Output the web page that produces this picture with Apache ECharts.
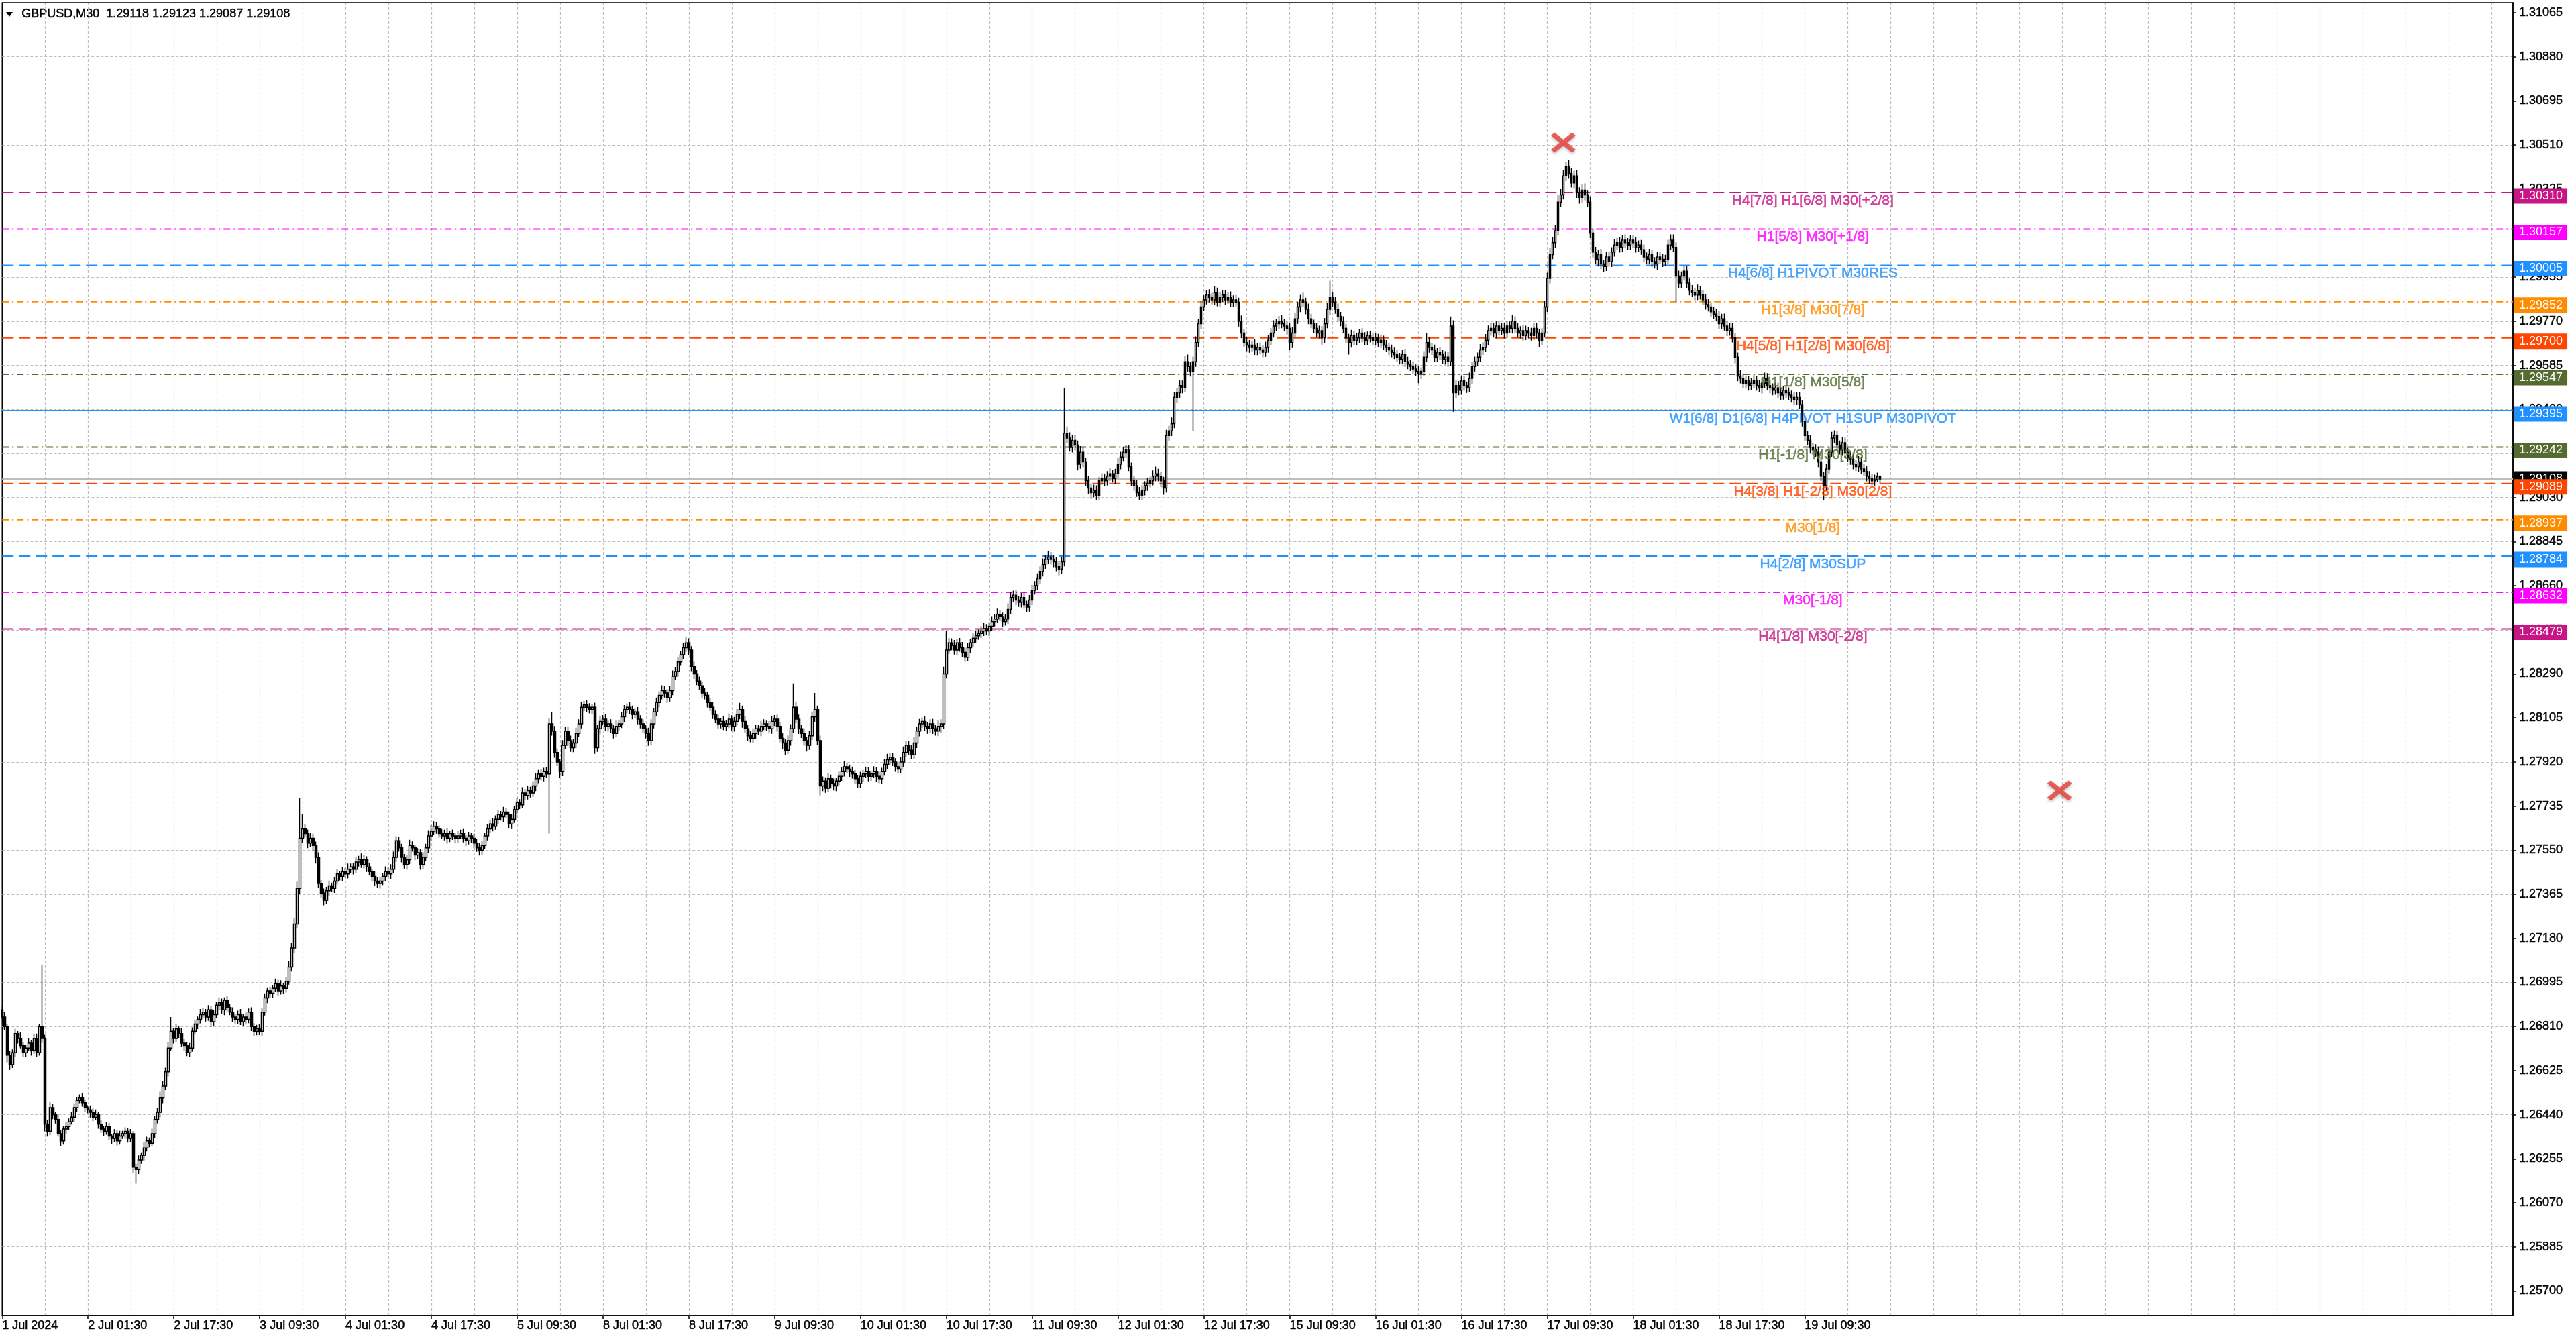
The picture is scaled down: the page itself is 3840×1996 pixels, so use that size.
<!DOCTYPE html>
<html>
<head>
<meta charset="utf-8">
<title>GBPUSD,M30</title>
<script src="https://cdn.jsdelivr.net/npm/echarts@6.0.0/dist/echarts.min.js"></script>
<style>
  html, body { margin: 0; padding: 0; background: #fff; }
  #chart { width: 3840px; height: 1996px; }
</style>
</head>
<body>
<div id="chart"></div>
<script>
// closes of the 30 min bars in points above 1.00000 (26850 -> 1.26850)
// 1 Jul 09:30 .. 19 Jul 23:30, weekend skipped, open = previous close
const firstOpen = 26880;
const closePts = [
  26850, 26810, 26690, 26650, 26700, 26780, 26760, 26730, 26700, 26720,
  26740, 26710, 26760, 26700, 26810, 26760, 26400, 26370, 26470, 26440,
  26420, 26360, 26330, 26380, 26390, 26410, 26430, 26470, 26500, 26510,
  26490, 26470, 26460, 26450, 26430, 26440, 26400, 26380, 26370, 26390,
  26350, 26340, 26360, 26330, 26350, 26360, 26370, 26340, 26360, 26220,
  26210, 26250, 26270, 26300, 26330, 26320, 26360, 26420, 26450, 26510,
  26560, 26620, 26720, 26790, 26760, 26800, 26780, 26740, 26730, 26700,
  26720, 26790, 26820, 26840, 26860, 26870, 26850, 26880, 26830, 26860,
  26900, 26910, 26880, 26920, 26890, 26870, 26850, 26840, 26860, 26830,
  26850, 26840, 26870, 26810, 26790, 26800, 26790, 26870, 26930, 26960,
  26950, 26970, 26990, 26960, 26980, 26970, 27000, 27060, 27140, 27240,
  27390, 27600, 27640, 27620, 27580, 27600, 27570, 27520, 27410, 27370,
  27340, 27380, 27400, 27390, 27420, 27450, 27440, 27460, 27450, 27470,
  27480, 27470, 27500, 27510, 27490, 27510, 27480, 27460, 27440, 27420,
  27410, 27420, 27440, 27460, 27450, 27470, 27520, 27590, 27560, 27520,
  27490, 27510, 27570, 27560, 27530, 27540, 27490, 27520, 27560, 27610,
  27630, 27650, 27640, 27620, 27610, 27620, 27600, 27620, 27610, 27600,
  27610, 27620, 27600, 27590, 27610, 27600, 27580, 27560, 27550, 27570,
  27610, 27640, 27660, 27650, 27680, 27700, 27690, 27710, 27700, 27660,
  27680, 27720, 27750, 27740, 27790, 27780, 27800, 27790, 27820, 27850,
  27870, 27860, 27880, 27870, 28080, 28050, 27960, 27920, 27880, 27990,
  28050, 28010, 27980, 28000, 28040, 28080, 28150, 28160, 28150, 28140,
  28150, 27980, 28060, 28090, 28100, 28070, 28080, 28060, 28040, 28070,
  28080, 28110, 28140, 28150, 28140, 28120, 28130, 28100, 28080, 28060,
  28040, 28010, 28080, 28130, 28170, 28200, 28220, 28210, 28190, 28220,
  28280, 28300, 28340, 28370, 28400, 28420, 28390, 28320, 28290, 28260,
  28240, 28210, 28200, 28170, 28150, 28120, 28100, 28080, 28090, 28070,
  28080, 28100, 28070, 28090, 28120, 28140, 28090, 28060, 28030, 28020,
  28040, 28060, 28050, 28070, 28080, 28070, 28060, 28090, 28100, 28070,
  28020, 28000, 27970, 28010, 28060, 28150, 28100, 28060, 28040, 28010,
  27990, 28030, 28110, 28140, 28010, 27820, 27840, 27810, 27850, 27830,
  27820, 27840, 27860, 27880, 27900, 27890, 27880, 27870, 27850, 27830,
  27860, 27870, 27880, 27860, 27870, 27880, 27860, 27850, 27880, 27910,
  27930, 27940, 27920, 27900, 27890, 27920, 27960, 27990, 27970, 27950,
  28000, 28050, 28080, 28090, 28070, 28060, 28080, 28060, 28050, 28070,
  28080, 28290, 28390, 28420, 28410, 28390, 28420, 28400, 28380, 28360,
  28400, 28420, 28440, 28450, 28460, 28470, 28480, 28470, 28490, 28510,
  28520, 28540, 28530, 28510, 28520, 28560, 28610, 28620, 28600, 28590,
  28610, 28580, 28570, 28600, 28640, 28660, 28690, 28720, 28750, 28770,
  28780, 28770, 28760, 28740, 28730, 28760, 29300, 29280, 29240, 29270,
  29250, 29170, 29220, 29180, 29100, 29070, 29050, 29060, 29040, 29100,
  29110, 29100, 29120, 29130, 29110, 29130, 29170, 29200, 29220, 29230,
  29160, 29100, 29080, 29050, 29040, 29060, 29080, 29090, 29100, 29120,
  29130, 29120, 29100, 29070, 29290, 29310, 29340, 29450, 29470, 29500,
  29490, 29600, 29580, 29560, 29600, 29680, 29760, 29830, 29860, 29880,
  29870, 29860, 29890, 29850, 29870, 29880, 29860, 29870, 29850, 29860,
  29850, 29770, 29720, 29680, 29670, 29660, 29670, 29650, 29660, 29650,
  29640, 29660, 29690, 29720, 29750, 29760, 29770, 29760, 29750, 29740,
  29680, 29720, 29780, 29830, 29860, 29850, 29820, 29780, 29760, 29740,
  29720, 29730, 29700, 29760, 29820, 29870, 29850, 29820, 29790, 29770,
  29740, 29700, 29680, 29710, 29690, 29700, 29720, 29700, 29690, 29710,
  29700, 29690, 29700, 29680, 29690, 29670, 29660, 29650, 29640, 29630,
  29620, 29610, 29630, 29600, 29590, 29580, 29570, 29560, 29550, 29560,
  29620, 29680, 29660, 29650, 29620, 29640, 29630, 29610, 29620, 29600,
  29750, 29470, 29500, 29480, 29520, 29500, 29490, 29530, 29580, 29600,
  29620, 29650, 29660, 29690, 29730, 29740, 29720, 29750, 29730, 29740,
  29720, 29750, 29740, 29770, 29740, 29720, 29730, 29710, 29730, 29720,
  29710, 29740, 29720, 29690, 29720, 29830, 29950, 30050, 30100, 30150,
  30270, 30300, 30380, 30420, 30390, 30350, 30380, 30310, 30290, 30320,
  30300, 30270, 30140, 30060, 30030, 30050, 30010, 30000, 30040, 30020,
  30060, 30090, 30100, 30080, 30110, 30100, 30090, 30110, 30100, 30080,
  30090, 30070, 30040, 30030, 30050, 30020, 30010, 30040, 30030, 30020,
  30030, 30090, 30110, 30080, 29960, 29930, 29960, 29980, 29930, 29900,
  29890, 29880, 29900, 29880, 29860, 29840, 29830, 29810, 29800, 29790,
  29760, 29780, 29750, 29730, 29740, 29700, 29620, 29540, 29530, 29510,
  29520, 29500, 29510, 29520, 29500, 29490, 29510, 29530, 29500, 29490,
  29480, 29490, 29470, 29460, 29480, 29470, 29460, 29450, 29440, 29450,
  29420, 29350, 29290, 29270, 29240, 29230, 29220, 29180, 29120, 29080,
  29150, 29220, 29280, 29290, 29250, 29230, 29260, 29220, 29200, 29190,
  29170, 29160, 29180, 29150, 29140, 29120, 29110, 29100, 29105, 29118,
  29108
];

// wick above the body / below the body, in points
const wickUp = [
  15,22,12,18,14,20,11,25,16,13,21,14,18,20,12,260,15,19,24,16,
  12,20,16,11,18,14,23,17,12,15,21,14,10,19,16,22,12,17,14,20,
  16,10,19,14,22,12,17,15,20,11,14,19,12,24,17,14,21,16,19,26,
  20,17,24,60,15,19,12,22,17,14,21,16,19,12,24,17,14,20,16,19,
  14,22,17,12,19,16,21,14,17,24,12,19,16,21,14,17,22,16,19,12,
  17,14,21,16,24,12,19,26,20,24,28,170,60,20,17,24,19,16,21,14,
  19,16,22,14,17,21,12,19,16,24,14,17,21,16,26,19,14,17,12,21,
  16,19,14,22,17,21,24,19,16,17,14,21,24,17,12,19,16,21,17,24,
  26,21,17,14,19,16,22,12,17,14,21,16,19,12,17,14,21,16,19,17,
  14,21,17,24,16,19,14,22,17,12,21,16,19,14,24,17,21,16,19,22,
  17,21,16,19,24,50,21,17,14,22,19,16,21,17,24,19,22,16,21,17,
  14,19,16,22,17,21,14,19,16,24,17,21,19,16,22,17,14,21,16,19,
  17,24,19,16,21,17,22,19,16,21,24,19,22,17,21,26,19,16,21,17,
  19,16,21,14,17,22,16,19,14,21,17,24,16,19,22,28,17,21,16,19,
  21,17,16,22,19,14,21,24,17,19,16,21,17,22,19,100,24,19,17,21,
  16,19,22,70,17,21,19,16,22,17,21,14,19,17,24,16,19,21,17,14,
  19,16,21,17,14,22,17,19,16,21,24,17,19,16,21,22,25,19,17,21,
  24,19,21,17,22,16,19,21,17,24,19,30,80,21,19,22,17,21,24,19,
  21,17,22,19,16,21,24,19,17,22,21,24,19,17,21,26,24,19,21,17,
  19,22,17,21,24,19,22,21,24,19,26,21,17,19,22,21,190,28,24,21,
  24,19,26,21,17,22,19,24,21,17,22,19,21,24,17,21,25,22,24,19,
  21,17,19,22,24,21,19,22,17,24,30,21,19,17,24,21,26,22,19,24,
  21,24,30,19,22,26,21,24,19,21,24,19,26,21,24,19,22,21,25,19,
  21,19,24,17,22,21,19,24,17,21,19,24,22,21,24,19,22,25,21,19,
  21,24,26,22,21,30,19,24,21,17,22,21,19,24,26,70,22,21,24,19,
  21,19,17,24,21,22,19,21,24,17,19,22,21,17,24,19,21,17,22,19,
  21,17,19,24,21,17,22,19,21,17,24,40,21,19,22,17,21,19,24,21,
  40,24,21,19,22,21,17,24,21,22,19,24,21,26,22,21,24,19,22,21,
  24,21,19,25,21,22,19,24,21,17,22,21,24,19,21,26,24,28,22,25,
  28,24,26,20,28,24,21,26,22,24,28,21,24,19,22,21,24,19,21,22,
  21,24,19,22,21,24,19,22,21,24,19,21,22,19,24,21,19,22,21,24,
  19,22,24,24,21,22,19,24,21,19,22,21,24,19,21,22,24,19,21,22,
  24,21,22,19,24,21,22,19,24,21,22,19,21,24,19,22,21,24,22,21,
  19,22,21,24,19,21,22,19,24,21,22,19,24,21,22,19,24,21,22,19,
  21,24,26,22,21,19,24,21,19,22,21,19,24,21,19,22,21,19,21,17,
  5
];
const wickDn = [
  18,15,30,22,14,17,21,12,19,16,11,22,14,17,12,19,30,22,16,19,
  17,12,22,16,19,14,11,21,17,12,16,19,14,22,17,12,19,16,21,14,
  17,22,14,19,16,12,21,17,14,24,60,19,16,22,14,17,12,19,16,21,
  22,17,19,14,21,16,19,17,22,14,19,16,12,21,17,14,19,16,22,17,
  14,19,17,22,16,12,21,17,19,14,17,22,16,19,21,17,16,19,14,22,
  17,21,14,19,16,22,17,14,19,21,17,22,19,16,21,17,22,26,19,22,
  21,17,22,16,19,14,17,21,16,19,17,22,16,19,14,17,21,16,22,19,
  17,21,16,19,14,22,17,19,16,21,17,22,19,16,21,17,22,19,16,21,
  19,16,21,17,14,19,22,16,17,21,19,14,17,22,16,19,21,17,22,19,
  16,19,17,21,14,19,16,22,17,19,21,16,19,17,14,21,17,19,16,22,
  19,17,21,16,250,19,22,17,26,19,16,21,17,19,22,16,19,17,21,16,
  19,26,17,21,16,19,22,17,21,16,19,17,22,16,19,21,17,22,19,16,
  21,22,17,19,16,21,17,19,22,16,19,17,21,16,19,17,22,19,21,17,
  19,22,17,21,16,19,17,22,19,16,21,17,19,22,17,21,26,19,22,17,
  19,22,17,21,16,19,17,21,19,22,17,26,19,17,21,19,17,22,19,21,
  26,19,17,21,19,40,22,19,17,21,19,22,17,19,21,17,22,19,21,17,
  19,22,17,21,19,17,22,19,21,17,19,22,17,21,19,17,22,19,21,17,
  19,21,22,17,19,21,17,22,19,21,26,22,19,17,21,19,22,17,21,19,
  17,21,19,22,17,19,21,17,22,19,21,17,19,22,17,21,19,17,22,19,
  21,17,22,19,21,17,19,22,21,19,17,21,22,19,26,21,19,22,17,21,
  22,26,19,22,21,24,26,19,22,21,17,22,19,21,17,22,19,21,17,22,
  19,22,21,17,22,19,21,22,17,19,21,22,26,28,19,21,22,19,22,21,
  22,19,21,22,250,21,19,22,17,19,21,19,22,17,21,19,22,17,21,19,
  17,22,21,19,26,22,19,21,22,19,21,19,22,21,19,22,21,19,22,26,
  30,22,19,21,22,19,21,22,19,21,19,22,28,21,19,22,21,19,22,21,
  19,22,50,21,19,22,21,19,22,21,19,22,21,19,22,21,19,22,21,19,
  22,21,19,22,21,19,22,21,40,22,21,19,22,21,19,22,21,19,22,21,
  19,80,22,21,19,22,21,19,22,21,19,22,21,19,22,21,19,22,21,19,
  22,21,19,22,21,19,22,21,19,22,21,19,22,30,21,19,22,21,19,22,
  21,22,19,21,22,19,21,22,26,21,22,19,21,22,19,30,21,22,19,21,
  22,19,21,22,19,21,22,19,21,22,19,21,22,19,21,22,19,26,21,22,
  19,21,22,19,110,22,21,19,22,21,19,22,21,19,22,21,19,22,21,19,
  22,21,19,22,21,19,26,22,21,19,22,21,19,22,21,19,22,21,19,22,
  21,19,22,21,19,22,21,19,22,21,19,22,21,19,22,21,19,22,21,60,
  22,21,19,22,21,19,22,21,19,22,21,19,22,21,19,22,21,19,22,8,
  21
];

// time axis labels, one every 32 bars (16 hours)
const timeLabels = [
  '1 Jul 2024', '2 Jul 01:30', '2 Jul 17:30', '3 Jul 09:30', '4 Jul 01:30', '4 Jul 17:30',
  '5 Jul 09:30', '8 Jul 01:30', '8 Jul 17:30', '9 Jul 09:30', '10 Jul 01:30', '10 Jul 17:30',
  '11 Jul 09:30', '12 Jul 01:30', '12 Jul 17:30', '15 Jul 09:30', '16 Jul 01:30', '16 Jul 17:30',
  '17 Jul 09:30', '18 Jul 01:30', '18 Jul 17:30', '19 Jul 09:30'
];

const priceTicks = [
  1.25700, 1.25885, 1.26070, 1.26255, 1.26440, 1.26625, 1.26810, 1.26995, 1.27180, 1.27365,
  1.27550, 1.27735, 1.27920, 1.28105, 1.28290, 1.28475, 1.28660, 1.28845, 1.29030, 1.29215,
  1.29400, 1.29585, 1.29770, 1.29955, 1.30140, 1.30325, 1.30510, 1.30695, 1.30880, 1.31065
];

// Murrey math levels
const levelPrices = [
  1.30310, 1.30157, 1.30005, 1.29852, 1.29700, 1.29547, 1.29395,
  1.29242, 1.29089, 1.28937, 1.28784, 1.28632, 1.28479
];
const levelNames = [
  'H4[7/8] H1[6/8] M30[+2/8]',
  'H1[5/8] M30[+1/8]',
  'H4[6/8] H1PIVOT M30RES',
  'H1[3/8] M30[7/8]',
  'H4[5/8] H1[2/8] M30[6/8]',
  'H1[1/8] M30[5/8]',
  'W1[6/8] D1[6/8] H4PIVOT H1SUP M30PIVOT',
  'H1[-1/8] M30[3/8]',
  'H4[3/8] H1[-2/8] M30[2/8]',
  'M30[1/8]',
  'H4[2/8] M30SUP',
  'M30[-1/8]',
  'H4[1/8] M30[-2/8]'
];
const bidPrice = 1.29108;
const headerText = 'GBPUSD,M30  1.29118 1.29123 1.29087 1.29108';

// drawn objects: [bar slot, price]
const crossMarks = [[582, 1.30520], [767, 1.27801]];

// ---- styles ----
const FONT = 'Liberation Sans';
const levelColor = ['#C71585', '#FF00FF', '#1E90FF', '#FF8C00', '#FF4500', '#556B2F', '#1E90FF',
                    '#556B2F', '#FF4500', '#FF8C00', '#1E90FF', '#FF00FF', '#C71585'];
const levelDash = ['dash', 'dashdot', 'dash', 'dashdot', 'dash', 'dashdot', 'solid',
                   'dashdot', 'dash', 'dashdot', 'dash', 'dashdot', 'dash'];
const dashType = { dash: [17, 8], dashdot: [10, 5, 2, 5], solid: 'solid' };

const SLOTS = 937;          // bars + empty shift area on the right
const LABEL_STEP = 32;
const GRID_STEP = 16;
const LEVEL_TEXT_SLOT = 675;

const toPrice = p => 1 + p / 1e5;
const candles = closePts.map((c, i) => {
  const o = i === 0 ? firstOpen : closePts[i - 1];
  const hi = Math.max(o, c) + wickUp[i];
  const lo = Math.min(o, c) - wickDn[i];
  return [toPrice(o), toPrice(c), toPrice(lo), toPrice(hi)];
});
const cats = Array.from({ length: SLOTS }, (_, i) => String(i));

// one horizontal line series per level, price tag at the right end
function hLine(v, color, type, tagBg, dy) {
  return {
    type: 'line',
    silent: true,
    symbol: 'none',
    animation: false,
    data: [[0, v], [SLOTS - 1, v]],
    lineStyle: { color: color, type: type, width: 2 },
    endLabel: {
      show: true,
      distance: 2,
      formatter: () => v.toFixed(5),
      color: '#fff',
      backgroundColor: tagBg,
      fontFamily: FONT,
      fontSize: 18,
      lineHeight: 20,
      padding: [2, 7, 1, 7],
      offset: [0, dy]
    },
    z: 2
  };
}

const lineSeries = [hLine(bidPrice, '#BDBDBD', 'solid', '#000000', 0)].concat(
  levelPrices.map((v, i) => hLine(v, levelColor[i], dashType[levelDash[i]], levelColor[i], 5))
);

const chart = echarts.init(document.getElementById('chart'), null, { renderer: 'canvas' });
chart.setOption({
  animation: false,
  backgroundColor: '#ffffff',
  grid: { left: 3, right: 94, top: 4, bottom: 35, show: true, borderColor: '#000', borderWidth: 1.5 },
  xAxis: {
    type: 'category',
    data: cats,
    boundaryGap: false,
    axisLine: { show: true, lineStyle: { color: '#000', width: 1.5 } },
    axisTick: {
      show: true, length: 5, inside: false,
      interval: i => i % LABEL_STEP === 0 && i / LABEL_STEP < timeLabels.length,
      lineStyle: { color: '#000', width: 1.5 }
    },
    axisLabel: {
      show: true,
      interval: i => i % LABEL_STEP === 0 && i / LABEL_STEP < timeLabels.length,
      formatter: (val, idx) => timeLabels[Math.round(idx / LABEL_STEP)] || '',
      align: 'left',
      margin: 6,
      color: '#000',
      textBorderColor: '#000',
      textBorderWidth: 0.5,
      fontFamily: FONT,
      fontSize: 18
    },
    splitLine: {
      show: true,
      interval: i => i > 0 && i % GRID_STEP === 0,
      lineStyle: { color: '#BEBEBE', type: [4, 3], width: 1.2 }
    }
  },
  yAxis: {
    type: 'value',
    position: 'right',
    min: 1.25597,
    max: 1.31107,
    axisLine: { show: true, lineStyle: { color: '#000', width: 1.5 } },
    axisTick: { show: true, length: 4, customValues: priceTicks, lineStyle: { color: '#000', width: 1.5 } },
    axisLabel: {
      show: true,
      customValues: priceTicks,
      formatter: v => v.toFixed(5),
      margin: 9,
      color: '#000',
      textBorderColor: '#000',
      textBorderWidth: 0.5,
      fontFamily: FONT,
      fontSize: 18
    },
    splitLine: { show: true, lineStyle: { color: '#BEBEBE', type: [4, 3], width: 1.2 } }
  },
  graphic: [
    { type: 'polygon', left: 9, top: 18, shape: { points: [[0, 0], [10, 0], [5, 7]] }, style: { fill: '#000' } },
    { type: 'text', left: 32, top: 12,
      style: { text: headerText, font: '18px "Liberation Sans"', fill: '#000', stroke: '#000', lineWidth: 0.5 } }
  ],
  series: lineSeries.concat([
    {
      type: 'candlestick',
      data: candles,
      large: false,
      barWidth: 3,
      clip: true,
      itemStyle: {
        color: '#ffffff',
        color0: '#000000',
        borderColor: '#000000',
        borderColor0: '#000000',
        borderWidth: 1.5
      },
      z: 3
    },
    {
      type: 'scatter',
      silent: true,
      symbolSize: 1,
      itemStyle: { color: 'transparent' },
      data: levelPrices.map((v, i) => ({
        value: [LEVEL_TEXT_SLOT, v],
        label: {
          show: true,
          position: 'bottom',
          distance: 1,
          formatter: levelNames[i],
          color: levelColor[i],
          textBorderColor: levelColor[i],
          textBorderWidth: 0.6,
          fontFamily: FONT,
          fontSize: 21
        }
      })),
      z: 4
    },
    {
      type: 'scatter',
      silent: true,
      symbol: 'path://M3,0 L10,7 L17,0 L20,3 L13,10 L20,17 L17,20 L10,13 L3,20 L0,17 L7,10 L0,3 Z',
      symbolSize: [37, 30],
      itemStyle: { color: '#E8403A', shadowBlur: 4, shadowColor: 'rgba(0,0,0,0.35)', shadowOffsetY: 2 },
      data: crossMarks,
      z: 5
    }
  ])
});
</script>
</body>
</html>
